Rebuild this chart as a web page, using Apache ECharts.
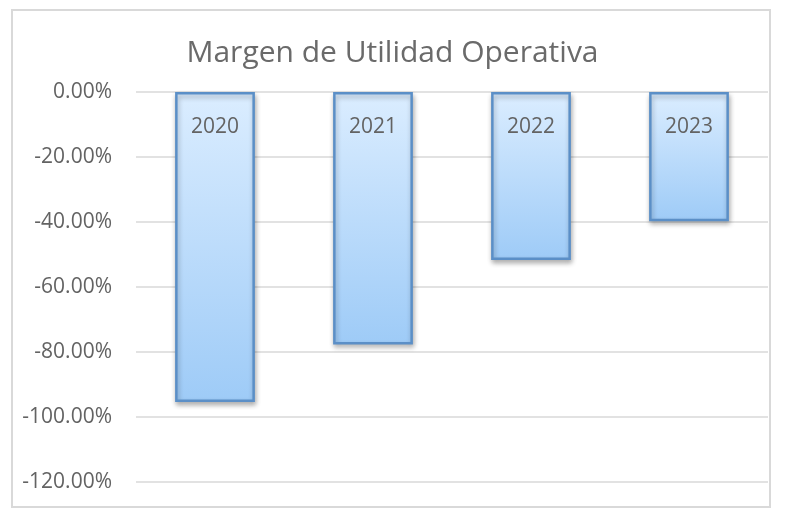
<!DOCTYPE html>
<html>
<head>
<meta charset="utf-8">
<script src="https://cdn.jsdelivr.net/npm/echarts@6/dist/echarts.min.js"></script>
<style>
  html, body { margin: 0; padding: 0; background: #fff; }
  #chart { width: 785px; height: 525px; }
</style>
</head>
<body>
<div id="chart"></div>
<script>
// datos
const years = ['2020', '2021', '2022', '2023'];
const margin = [-95.4, -77.7, -51.7, -39.8];
const axisTicks = [0, -20, -40, -60, -80, -100, -120];

const FONT = '"Open Sans", "Noto Sans", sans-serif';
const TEXT = '#636363';

const chart = echarts.init(document.getElementById('chart'));
chart.setOption({
  animation: false,
  backgroundColor: '#fff',
  title: {
    text: 'Margen de Utilidad Operativa',
    left: 'center',
    top: 33,
    textStyle: { fontFamily: FONT, fontSize: 30, fontWeight: 'normal', color: '#6a6a6a' }
  },
  graphic: [{
    type: 'rect',
    shape: { x: 12, y: 10, width: 758, height: 497 },
    style: { fill: 'none', stroke: '#d9d9d9', lineWidth: 2 },
    silent: true
  }],
  grid: { left: 136, right: 17, top: 92, bottom: 43 },
  xAxis: {
    type: 'category',
    data: years,
    position: 'top',
    axisLine: { show: false },
    axisTick: { show: false },
    axisLabel: { show: false }
  },
  yAxis: {
    type: 'value',
    min: axisTicks[axisTicks.length - 1],
    max: axisTicks[0],
    interval: 20,
    axisLine: { show: false },
    axisTick: { show: false },
    axisLabel: {
      margin: 24,
      fontFamily: FONT,
      fontSize: 21,
      color: TEXT,
      formatter: v => v.toFixed(2) + '%'
    },
    splitLine: { lineStyle: { color: '#d9d9d9', width: 1.5 } }
  },
  series: [{
    type: 'bar',
    data: margin,
    barWidth: '50.5%',
    itemStyle: {
      color: new echarts.graphic.LinearGradient(0, 0, 0, 1, [
        { offset: 0, color: '#dbedff' },
        { offset: 1, color: '#9ecbf7' }
      ]),
      borderColor: '#5b8fc7',
      borderWidth: 2.5,
      shadowColor: 'rgba(0,0,0,0.28)',
      shadowBlur: 5,
      shadowOffsetX: 1,
      shadowOffsetY: 3
    },
    label: {
      show: true,
      position: 'insideTop',
      distance: 25,
      formatter: p => p.name,
      fontFamily: FONT,
      fontSize: 21,
      color: TEXT
    }
  }]
});
</script>
</body>
</html>
